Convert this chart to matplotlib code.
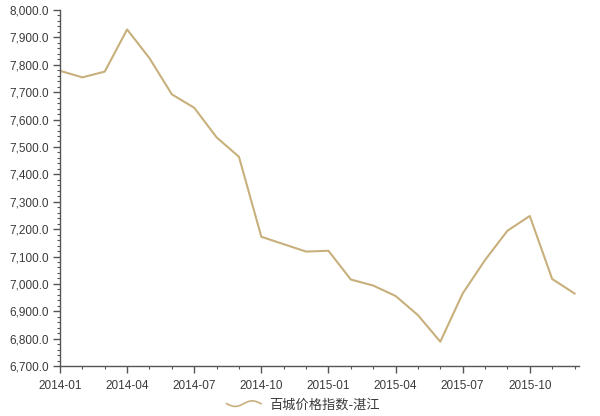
import numpy as np
import matplotlib
matplotlib.use("Agg")
import matplotlib.pyplot as plt
from matplotlib.legend_handler import HandlerBase
from matplotlib.lines import Line2D
from matplotlib.ticker import FuncFormatter, MultipleLocator

plt.rcParams['font.family'] = ['Liberation Sans', 'Noto Sans CJK SC', 'DejaVu Sans']

# monthly values, 2014-01 .. 2015-12
months = [
    '2014-01', '2014-02', '2014-03', '2014-04', '2014-05', '2014-06',
    '2014-07', '2014-08', '2014-09', '2014-10', '2014-11', '2014-12',
    '2015-01', '2015-02', '2015-03', '2015-04', '2015-05', '2015-06',
    '2015-07', '2015-08', '2015-09', '2015-10', '2015-11', '2015-12',
]
values = [
    7778, 7754, 7775, 7929, 7824, 7692,
    7643, 7535, 7464, 7172, 7145, 7118,
    7121, 7016, 6994, 6956, 6886, 6789,
    6965, 7087, 7194, 7248, 7018, 6965,
]
series_name = '百城价格指数-湛江'

LINE_COLOR = '#C8B07C'
TEXT_COLOR = '#3a3a3a'


class WaveHandler(HandlerBase):
    # legend icon drawn as a little wave like the original
    def create_artists(self, legend, orig_handle, xdescent, ydescent,
                       width, height, fontsize, trans):
        t = np.linspace(0, 1, 40)
        xs = -xdescent + t * width
        ys = -ydescent + height / 2 - np.sin(t * 2 * np.pi) * height * 0.3
        ln = Line2D(xs, ys, color=LINE_COLOR, lw=1.2, transform=trans)
        return [ln]


fig = plt.figure(figsize=(6, 4.16), dpi=100)
ax = fig.add_axes([0.1, 0.12, 0.865, 0.856])

x = np.arange(len(months))
line, = ax.plot(x, values, color=LINE_COLOR, lw=1.5, label=series_name)

ax.set_xlim(0, 23.2)
ax.set_ylim(6700, 8000)

ax.set_xticks(x[::3])
ax.set_xticklabels(months[::3])
ax.xaxis.set_minor_locator(MultipleLocator(1))
ax.yaxis.set_major_locator(MultipleLocator(100))
ax.yaxis.set_minor_locator(MultipleLocator(20))
ax.yaxis.set_major_formatter(FuncFormatter(lambda v, p: f'{v:,.1f}'))

for s in ['top', 'right']:
    ax.spines[s].set_visible(False)
for s in ['left', 'bottom']:
    ax.spines[s].set_color('#555555')
    ax.spines[s].set_linewidth(1.0)

ax.tick_params(axis='both', which='major', colors='#555555', labelcolor=TEXT_COLOR,
               labelsize=8.5, length=5, width=1.0, direction='out')
ax.tick_params(axis='both', which='minor', colors='#555555', length=2.5, width=0.8,
               direction='out')
ax.tick_params(axis='x', pad=5)
ax.tick_params(axis='y', pad=3)

leg = fig.legend([line], [series_name], handler_map={Line2D: WaveHandler()},
                 loc='center', bbox_to_anchor=(0.505, 0.027), frameon=False,
                 prop={'family': ['Noto Sans CJK SC', 'DejaVu Sans'], 'size': 9.5},
                 handlelength=2.6, handletextpad=0.6)
for t in leg.get_texts():
    t.set_color(TEXT_COLOR)

fig.savefig('out.png', dpi=100)
